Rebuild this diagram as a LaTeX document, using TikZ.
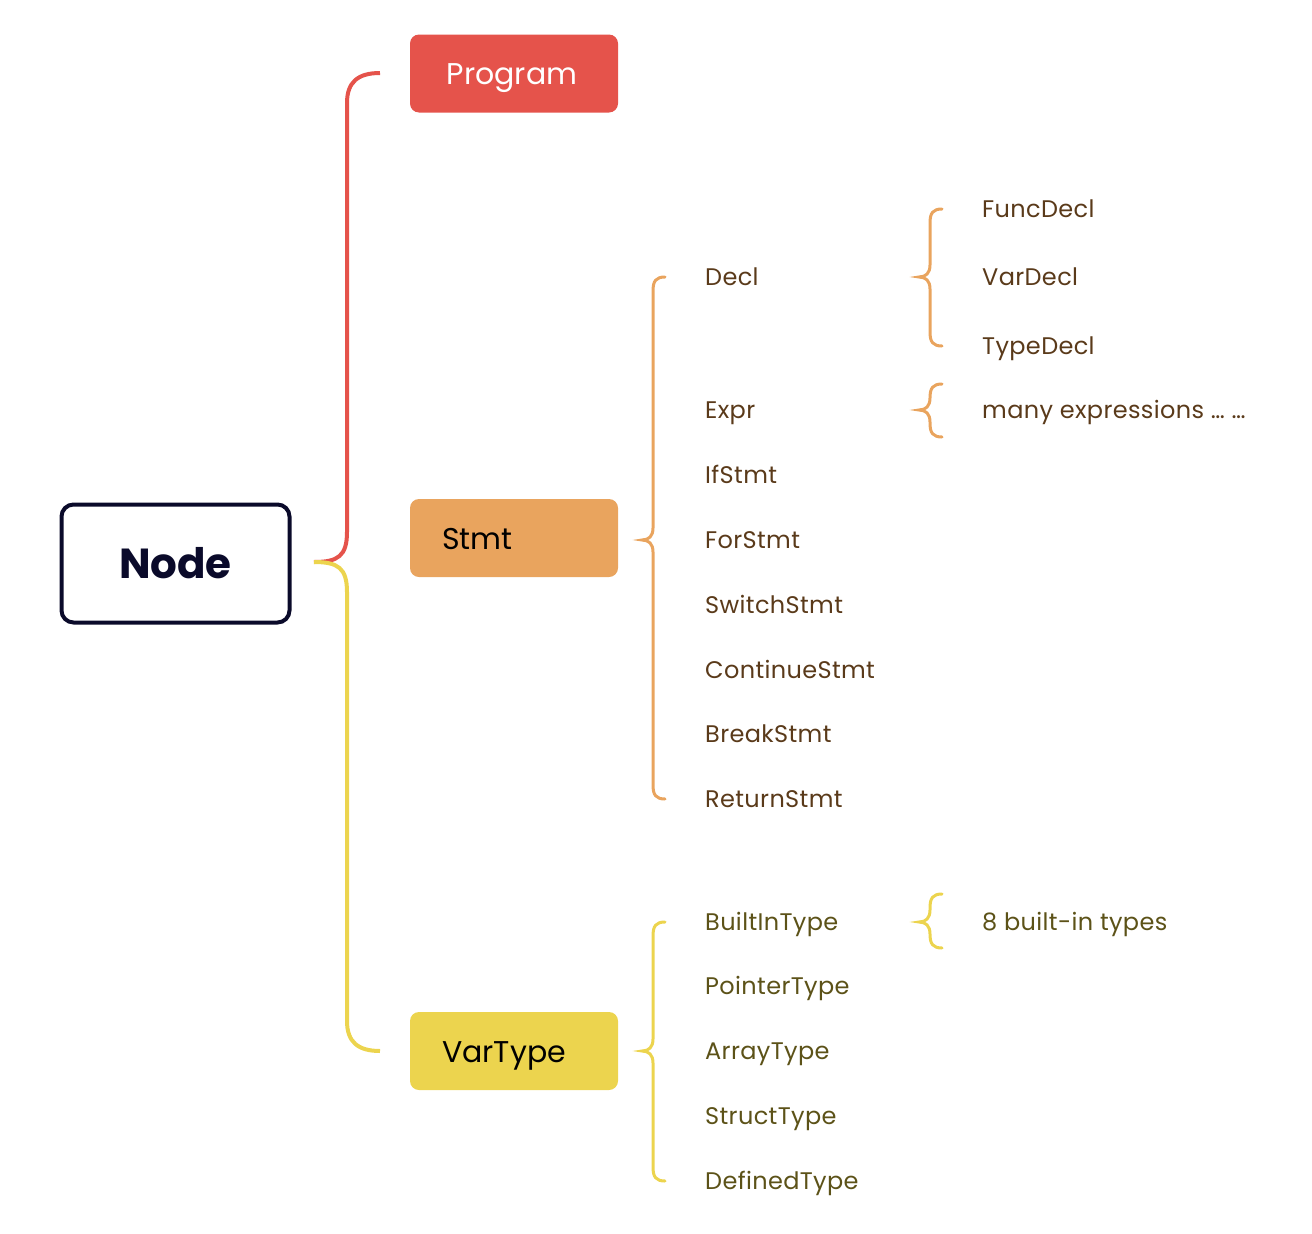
\documentclass[tikz,border=0pt]{standalone}
\usepackage{fontspec}
\setmainfont{Poppins}
\definecolor{cred}{HTML}{E5534B}
\definecolor{corange}{HTML}{E9A45E}
\definecolor{cyellow}{HTML}{ECD44E}
\definecolor{cnavy}{HTML}{0A0A2A}
\definecolor{tbrown}{HTML}{5A3A1A}
\definecolor{tolive}{HTML}{5C5218}
\newcommand{\mybrace}[5]{% xline, ytop, ycusp, ybot, colour
  \draw[bracestyle,#5] ({#1+12},#2) .. controls ({#1+3},#2) and (#1,{#2+4}) .. (#1,{#2+14})
    -- (#1,{#3-12}) .. controls (#1,{#3-4}) and ({#1-4},#3) .. ({#1-11},#3)
    .. controls ({#1-4},#3) and (#1,{#3+4}) .. (#1,{#3+12})
    -- (#1,{#4-14}) .. controls (#1,{#4-4}) and ({#1+3},#4) .. ({#1+12},#4);}
\begin{document}
\begin{tikzpicture}[x=1pt,y=-1pt,
  bracestyle/.style={line width=3pt,line cap=round},
  mainline/.style={line width=4pt},
  box/.style={rounded corners=9pt,minimum width=208pt,minimum height=78pt,inner sep=0pt},
  boxlabel/.style={inner sep=0pt,font=\fontsize{30}{34}\selectfont},
  childtext/.style={anchor=base west,font=\fontsize{24}{28}\selectfont\addfontfeature{LetterSpace=1.5},inner sep=0pt},
  browntext/.style={childtext,text=tbrown},
  olivetext/.style={childtext,text=tolive}]
\useasboundingbox (0,0) rectangle (1312,1234);
% main boxes
\node[draw=cnavy,line width=4pt,rounded corners=12pt,minimum width=228pt,minimum height=118pt] (node) at (175.5,563.5) {};
\node[anchor=base,inner sep=0pt,font=\fontsize{42}{46}\selectfont\bfseries,text=cnavy] (nodelabel) at (175.5,578) {Node};
\node[box,fill=cred] (program) at (514,73.5) {};
\node[boxlabel,anchor=base,text=white] (programlabel) at (512,84) {Program};
\node[box,fill=corange] (stmt) at (514,538) {};
\node[boxlabel,anchor=base west,text=black] (stmtlabel) at (442,549) {Stmt};
\node[box,fill=cyellow] (vartype) at (514,1051) {};
\node[boxlabel,anchor=base west,text=black] (vartypelabel) at (442,1062) {VarType};
% main connectors
\coordinate (root) at (314,562);
\coordinate (progend) at (380,73);
\coordinate (varend) at (380,1051);
\draw[mainline,cred] (root) .. controls (338,562) and (347,556) .. (347,532) -- (347,103)
  .. controls (347,82) and (358,73) .. (progend);
\draw[mainline,cyellow] (root) .. controls (338,562) and (347,568) .. (347,592) -- (347,1021)
  .. controls (347,1042) and (358,1051) .. (varend);
% brackets
\mybrace{653}{277}{540}{799}{corange}
\mybrace{930}{209}{277}{346}{corange}
\mybrace{930}{384}{410}{437}{corange}
\mybrace{653}{922}{1051}{1181}{cyellow}
\mybrace{930}{894}{922}{948}{cyellow}
% Stmt children
\node[browntext] (decl) at (705,285) {Decl};
\node[browntext] (expr) at (705,418) {Expr};
\node[browntext] (ifstmt) at (705,483) {IfStmt};
\node[browntext] (forstmt) at (705,548) {ForStmt};
\node[browntext] (switchstmt) at (705,613) {SwitchStmt};
\node[browntext] (continuestmt) at (705,678) {ContinueStmt};
\node[browntext] (breakstmt) at (705,742) {BreakStmt};
\node[browntext] (returnstmt) at (705,807) {ReturnStmt};
\node[browntext] (funcdecl) at (982,217) {FuncDecl};
\node[browntext] (vardecl) at (982,285) {VarDecl};
\node[browntext] (typedecl) at (982,354) {TypeDecl};
\node[browntext] (manyexpr) at (982,418) {many expressions … …};
% VarType children
\node[olivetext] (builtin) at (705,930) {BuiltInType};
\node[olivetext] (pointer) at (705,994) {PointerType};
\node[olivetext] (array) at (705,1059) {ArrayType};
\node[olivetext] (struct) at (705,1124) {StructType};
\node[olivetext] (defined) at (705,1189) {DefinedType};
\node[olivetext] (eight) at (982,930) {8 built-in types};
\end{tikzpicture}
\end{document}
